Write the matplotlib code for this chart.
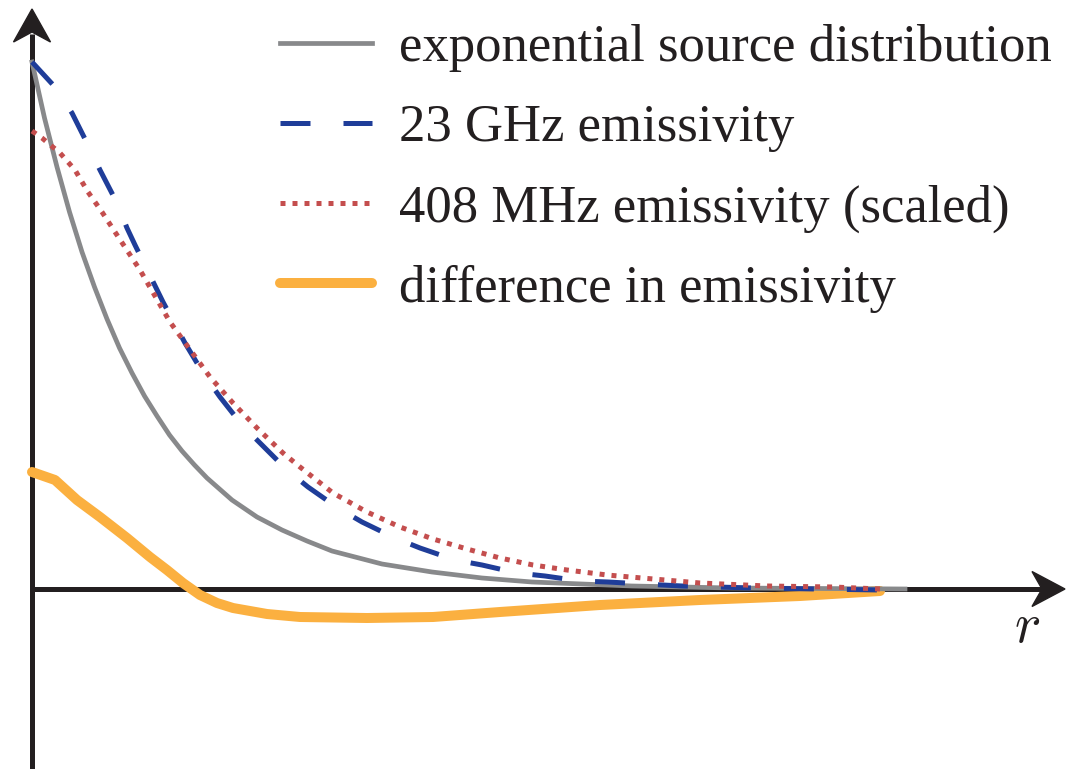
import numpy as np
import matplotlib.pyplot as plt
from matplotlib.patches import Polygon

plt.rcParams['font.family'] = ['Liberation Serif', 'DejaVu Serif']
plt.rcParams['mathtext.fontset'] = 'cm'

# radius (arbitrary units) and emissivity profiles
r_src = [0, 0.125, 0.25, 0.375, 0.5, 0.625, 0.75, 0.875, 1.0, 1.125, 1.25, 1.375, 1.5, 1.625, 1.75,
         2.0, 2.25, 2.5, 2.75, 3.0, 3.5, 4.0, 4.5, 5.0, 6.0, 7.0, 8.73]
source = [5.27, 4.71, 4.22, 3.77, 3.37, 3.02, 2.70, 2.41, 2.16, 1.93, 1.73, 1.54, 1.38, 1.24, 1.11,
          0.89, 0.72, 0.59, 0.48, 0.38, 0.25, 0.17, 0.11, 0.07, 0.03, 0.01, 0.0]

r_23 = [0, 0.23, 0.40, 0.56, 0.68, 0.85, 0.95, 1.03, 1.31, 1.53, 1.71, 1.88, 2.10, 2.30, 2.55, 2.76,
        3.06, 3.30, 3.63, 3.88, 4.23, 4.50, 4.85, 5.13, 5.48, 5.76, 6.11, 6.50, 7.20, 8.48]
em_23 = [5.27, 5.02, 4.76, 4.44, 4.19, 3.86, 3.61, 3.44, 2.87, 2.46, 2.16, 1.92, 1.64, 1.44, 1.19, 1.02,
         0.81, 0.67, 0.51, 0.41, 0.29, 0.24, 0.16, 0.13, 0.08, 0.07, 0.05, 0.03, 0.01, -0.01]

r_408 = [0, 0.10, 0.28, 0.43, 0.56, 0.70, 0.83, 1.08, 1.38, 1.51, 1.78, 2.01, 2.25, 2.51, 2.68, 3.01,
         3.35, 3.68, 4.01, 4.35, 4.68, 5.01, 5.35, 5.75, 6.68, 7.35, 8.01, 8.48]
em_408 = [4.58, 4.51, 4.36, 4.19, 3.97, 3.77, 3.57, 3.19, 2.67, 2.49, 2.12, 1.86, 1.61, 1.36, 1.22, 0.96,
          0.77, 0.62, 0.50, 0.40, 0.31, 0.24, 0.19, 0.14, 0.06, 0.03, 0.02, 0.0]

r_diff = [0, 0.23, 0.45, 0.68, 0.95, 1.18, 1.35, 1.51, 1.68, 1.85, 2.01, 2.35, 2.68, 3.35, 4.01, 4.68,
          5.68, 6.68, 7.68, 8.48]
em_diff = [1.17, 1.09, 0.89, 0.72, 0.51, 0.32, 0.19, 0.06, -0.06, -0.14, -0.19, -0.25, -0.28, -0.29, -0.28,
           -0.23, -0.16, -0.11, -0.07, -0.02]

labels = ['exponential source distribution', '23 GHz emissivity',
          '408 MHz emissivity (scaled)', 'difference in emissivity']

fig = plt.figure(figsize=(10.76, 7.69), dpi=100)
ax = fig.add_axes([0, 0, 1, 1])
ax.set_xlim(-0.32, 10.44)
ax.set_ylim(-1.80, 5.89)
ax.axis('off')

axis_col = '#231f20'
ax.plot([0, 10.1], [0, 0], color=axis_col, lw=3.6, zorder=1, solid_capstyle='butt')
ax.plot([0, 0], [-1.8, 5.55], color=axis_col, lw=3.6, zorder=1, solid_capstyle='butt')
# stealth style arrow heads
ax.add_patch(Polygon([[10.33, 0], [10.00, 0.175], [10.10, 0], [10.00, -0.175]],
                     closed=True, color=axis_col, zorder=5))
ax.add_patch(Polygon([[0, 5.80], [0.185, 5.47], [0, 5.57], [-0.185, 5.47]],
                     closed=True, color=axis_col, zorder=5))
ax.text(9.95, -0.39, '$r$', fontsize=40, ha='center', va='center', color=axis_col)

ax.plot(r_src, source, color='#88898b', lw=3.4, label=labels[0], zorder=3)
ax.plot(r_23, em_23, color='#1f3d99', lw=3.6, dashes=(6, 6.6), label=labels[1], zorder=4)
ax.plot(r_408, em_408, color='#c44e4e', lw=3.6, dashes=(1, 1.4), label=labels[2], zorder=4)
ax.plot(r_diff, em_diff, color='#fbb040', lw=7.2, solid_capstyle='round', label=labels[3], zorder=2)

leg = ax.legend(loc='upper left', bbox_to_anchor=(280 / 1076, 1 - 24 / 769),
                bbox_transform=fig.transFigure, frameon=False, fontsize=38,
                handlelength=1.75, handletextpad=0.5, labelspacing=0.61,
                borderpad=0, borderaxespad=0)
for t in leg.get_texts():
    t.set_color('#231f20')

fig.savefig('out.png', dpi=100)
